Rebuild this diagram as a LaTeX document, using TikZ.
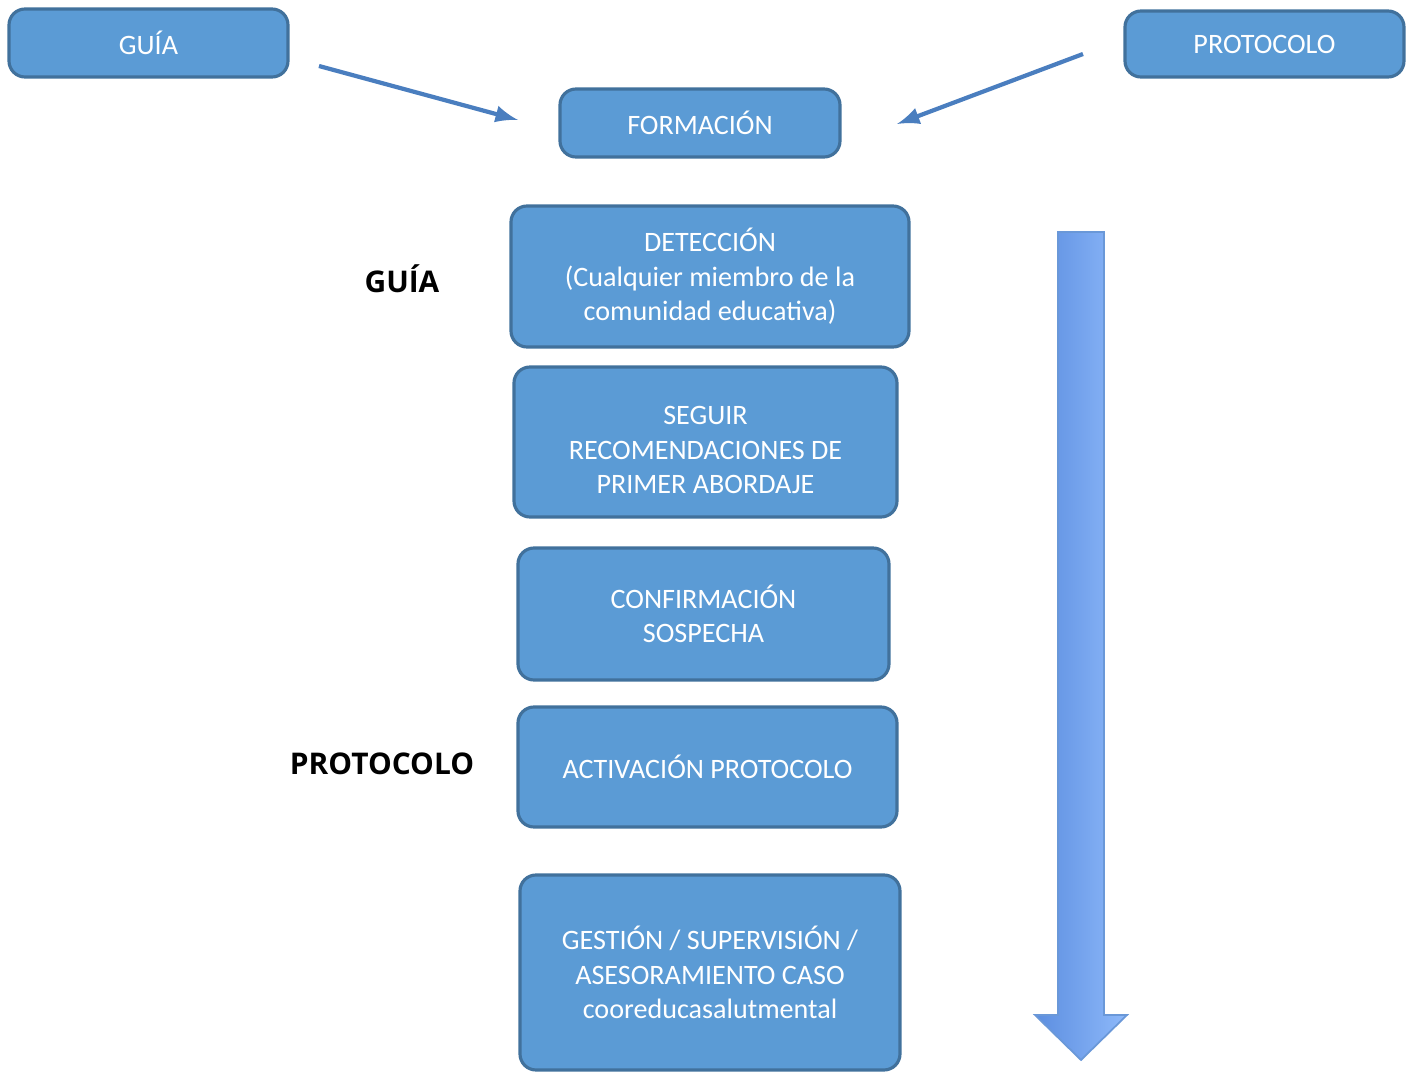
\documentclass[tikz,border=0pt]{standalone}
\usepackage{fontspec}
\setmainfont{Carlito}
\newfontfamily\labelfont{Open Sans}
\usepackage{tikz}
\usetikzlibrary{calc,shapes,arrows,shadows}

\definecolor{boxfill}{HTML}{5B9BD5}
\definecolor{boxline}{HTML}{41719C}
\definecolor{arrowblue}{HTML}{4A7EBF}
\definecolor{bigleft}{HTML}{5C8EE0}
\definecolor{bigright}{HTML}{8EB9FA}
\definecolor{bigline}{HTML}{6A98D8}

\begin{document}
\begin{tikzpicture}[
		stagebox/.style={draw=boxline, fill=boxfill, line width=0.9pt, rounded corners=0.16cm,
			text=white, align=center, inner sep=0pt, font=\fontsize{8}{9.8}\selectfont},
		sidelabel/.style={font=\labelfont\bfseries\fontsize{8.5}{10}\selectfont, inner sep=0pt},
		linkarrow/.style={arrowblue, line width=1.2pt, -latex}
	]

		\useasboundingbox (0,0) rectangle (14.08,-10.74);

		% top row
		\node[stagebox, minimum width=2.79cm, minimum height=0.68cm] (guia) at (1.485,-0.43) {GUÍA};
		\node[stagebox, minimum width=2.79cm, minimum height=0.66cm] (prot) at (12.645,-0.44) {PROTOCOLO};
		\node[stagebox, minimum width=2.80cm, minimum height=0.68cm] (form) at (7.00,-1.23) {FORMACIÓN};

		\coordinate (guiaout) at (3.19,-0.66);
		\coordinate (forml) at (5.18,-1.20);
		\coordinate (protout) at (10.83,-0.54);
		\coordinate (formr) at (8.97,-1.24);
		\draw[linkarrow] (guiaout) -- (forml);
		\draw[linkarrow] (protout) -- (formr);

		% stages
		\node[stagebox, minimum width=3.98cm, minimum height=1.41cm] (det) at (7.10,-2.765)
			{DETECCIÓN\\(Cualquier miembro de la\\comunidad educativa)};
		\node[stagebox, minimum width=3.83cm, minimum height=1.50cm] (seg) at (7.055,-4.42)
			{\rule{0pt}{9.8pt}SEGUIR\\RECOMENDACIONES DE\\PRIMER ABORDAJE};
		\node[stagebox, minimum width=3.71cm, minimum height=1.32cm] (conf) at (7.035,-6.14)
			{CONFIRMACIÓN\\SOSPECHA};
		\node[stagebox, minimum width=3.79cm, minimum height=1.20cm] (act) at (7.075,-7.67)
			{ACTIVACIÓN PROTOCOLO};
		\node[stagebox, minimum width=3.80cm, minimum height=1.95cm] (gest) at (7.10,-9.725)
			{GESTIÓN / SUPERVISIÓN /\\ASESORAMIENTO CASO\\cooreducasalutmental};

		% side labels
		\node[sidelabel] (lguia) at (4.02,-2.79) {GUÍA};
		\node[sidelabel] (lprot) at (3.82,-7.64) {PROTOCOLO};

		% big arrow
		\draw[bigline, line width=0.5pt, left color=bigleft, right color=bigright]
			(10.58,-2.32) -- (11.04,-2.32) -- (11.04,-10.15) -- (11.27,-10.15)
			-- (10.81,-10.60) -- (10.35,-10.15) -- (10.58,-10.15) -- cycle;

	\end{tikzpicture}
\end{document}
